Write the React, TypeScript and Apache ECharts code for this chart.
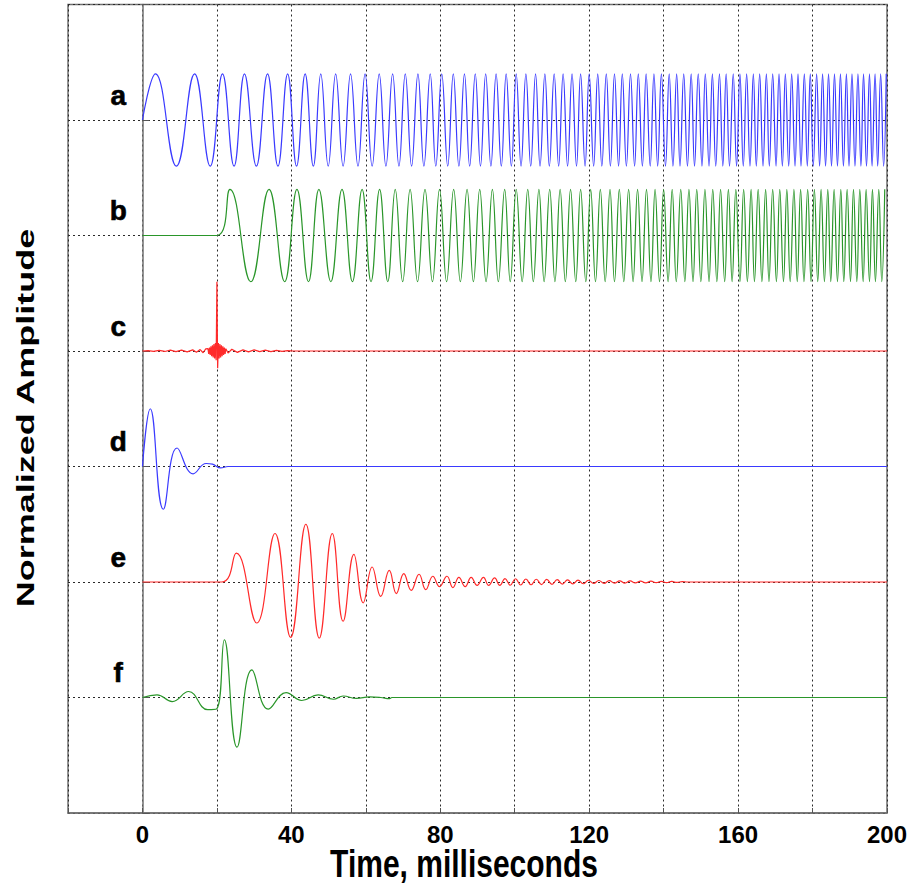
import React, { useEffect, useRef } from "react";
import * as echarts from "echarts";

// ---------- data ----------
const X_MIN = -20;
const X_MAX = 200;
const X_TICK_LABELS = ["0", "40", "80", "120", "160", "200"];
const TRACE_LETTERS = ["a", "b", "c", "d", "e", "f"];
const TRACE_BASELINES = [6, 5, 4, 3, 2, 1];
const TRACE_COLORS = ["#3a3aff", "#2a962a", "#ff2a2a", "#3a3aff", "#ff2a2a", "#2a962a"];

// trace a: chirp, times (ms) of its successive extrema, alternating peak / trough
const A_AMPLITUDE = 0.4;
const A_EXTREMA_MS = [
  3.5, 9.1, 14.0, 18.2, 21.5, 24.6, 27.4, 30.6, 33.6, 36.4, 39.0, 41.4, 43.7, 45.9, 47.9, 49.9, 51.9, 53.9, 55.9,
  57.9, 59.8, 61.7, 63.6, 65.4, 67.2, 68.9, 70.6, 72.3, 74.0, 75.6, 77.3, 78.8, 80.4, 82.0, 83.5, 85.0, 86.5, 87.9, 89.4,
  90.8, 92.2, 93.6, 95.0, 96.4, 97.7, 99.1, 100.4, 101.7, 103.0, 104.3, 105.6, 106.8, 108.1, 109.3, 110.6, 111.8, 113.0, 114.2, 115.4,
  116.6, 117.7, 118.9, 120.0, 121.2, 122.3, 123.4, 124.6, 125.7, 126.8, 127.9, 128.9, 130.0, 131.1, 132.2, 133.2, 134.3, 135.3, 136.4, 137.4,
  138.4, 139.4, 140.5, 141.5, 142.5, 143.5, 144.4, 145.4, 146.4, 147.4, 148.3, 149.3, 150.3, 151.2, 152.2, 153.1, 154.0, 155.0, 155.9, 156.8,
  157.7, 158.7, 159.6, 160.5, 161.4, 162.3, 163.2, 164.1, 164.9, 165.8, 166.7, 167.6, 168.4, 169.3, 170.2, 171.0, 171.9, 172.7, 173.6, 174.4,
  175.3, 176.1, 176.9, 177.8, 178.6, 179.4, 180.2, 181.1, 181.9, 182.7, 183.5, 184.3, 185.1, 185.9, 186.7, 187.5, 188.3, 189.1, 189.8, 190.6,
  191.4, 192.2, 193.0, 193.7, 194.5, 195.3, 196.0, 196.8, 197.5, 198.3, 199.1, 199.8,
];
// trace b: the same chirp delayed by 20 ms
const B_DELAY_MS = 20;

// trace c: correlation, [ms, amplitude]
const C_POINTS = [
  [0, 0], [1.5, 0.004], [3, -0.004], [4.5, 0.006], [6, -0.004], [7.5, 0.008], [9, -0.005], [10.5, 0.007],
  [12, -0.008], [13.5, 0.01], [14.5, -0.01], [15.5, 0.012], [16.3, -0.015], [17.0, 0.018], [17.6, 0.02],
  [17.8, -0.025], [18.0, 0.03], [18.2, -0.035], [18.4, 0.04], [18.6, -0.045], [18.8, 0.05], [19.0, -0.055],
  [19.2, 0.06], [19.4, -0.065], [19.6, 0.07], [19.8, -0.08], [20.0, 0.6], [20.2, -0.15], [20.4, 0.07],
  [20.6, -0.065], [20.8, 0.06], [21.0, -0.055], [21.2, 0.05], [21.4, -0.045], [21.6, 0.04], [21.8, -0.035],
  [22.0, 0.03], [22.2, -0.025], [22.4, 0.02], [23.0, -0.018], [24.0, 0.015], [25.5, -0.012], [27, 0.01],
  [28.5, -0.008], [30, 0.01], [31.5, -0.006], [33, 0.007], [34.5, -0.005], [36, 0.006], [37.5, -0.003],
  [39, 0.004], [40.5, 0], [200, 0],
];

// trace d: damped wavelet
const D_POINTS = [
  [0, 0], [2.1, 0.5], [5.6, -0.37], [9.3, 0.16], [13.6, -0.063], [17.1, 0.026], [18.8, 0.02],
  [21.0, -0.012], [23.0, 0], [200, 0],
];

// trace e: filtered response
const E_POINTS = [
  [0, 0], [21.3, 0], [25.2, 0.25], [30.7, -0.355], [35.6, 0.42], [39.8, -0.48], [43.9, 0.5], [47.5, -0.485],
  [51.0, 0.42], [53.9, -0.34], [56.8, 0.24], [59.3, -0.18], [61.7, 0.13], [64.0, -0.124], [66.3, 0.1],
  [68.2, -0.1], [70.2, 0.073], [72.2, -0.072], [74.3, 0.067], [76.1, -0.066], [78.0, 0.05], [79.8, -0.04],
  [81.8, 0.05], [83.4, -0.048], [85.0, 0.04], [86.7, -0.04], [88.3, 0.04], [89.9, -0.03], [91.6, 0.04],
  [93.0, -0.03], [94.6, 0.035], [96.0, -0.03], [97.4, 0.03], [98.8, -0.028], [100.2, 0.028], [101.6, -0.026],
  [103.0, 0.026], [104.4, -0.024], [105.8, 0.024], [107.2, -0.022], [108.6, 0.022], [110.0, -0.02],
  [111.4, 0.02], [112.8, -0.018], [114.2, 0.018], [115.6, -0.016], [117.0, 0.016], [118.4, -0.015],
  [119.8, 0.015], [121.2, -0.013], [122.6, 0.013], [124.0, -0.012], [125.4, 0.012], [126.8, -0.01],
  [128.2, 0.01], [129.6, -0.009], [131.0, 0.009], [132.4, -0.008], [133.8, 0.008], [135.2, -0.007],
  [136.6, 0.007], [138.0, -0.006], [139.4, 0.006], [140.8, -0.005], [142.2, 0.005], [143.6, -0.004],
  [145.0, 0.004], [146.4, 0], [200, 0],
];

// trace f: wavelet
const F_POINTS = [
  [0, 0], [3.9, 0.023], [8.0, -0.035], [12.4, 0.052], [17.5, -0.105], [19.9, -0.1], [22.0, 0.5],
  [25.4, -0.43], [29.4, 0.24], [33.8, -0.1], [38.6, 0.043], [42.8, -0.026], [47.2, 0.023], [51.3, -0.015],
  [53.9, 0.013], [57.5, -0.008], [61.0, 0.005], [64.0, 0], [66.4, -0.01], [67.0, 0], [200, 0],
];

const LABEL_X_MS = -6.5;
const LABEL_RISE = 0.215;

const FONT = '"Liberation Sans", Arial, Helvetica, sans-serif';

function chirpTrace(delay: number, base: number): number[][] {
  const pts: number[][] = [[0, base]];
  if (delay > 0) pts.push([delay, base]);
  A_EXTREMA_MS.forEach((t, i) => {
    const tt = t + delay;
    if (tt <= X_MAX) pts.push([tt, base + (i % 2 === 0 ? 1 : -1) * A_AMPLITUDE]);
  });
  return pts;
}

function offsetTrace(points: number[][], base: number): number[][] {
  return points.map(([t, v]) => [t, base + v]);
}

export default function App() {
  const ref = useRef<HTMLDivElement>(null);

  useEffect(() => {
    document.body.style.margin = "0";
    if (!ref.current) return;
    const chart = echarts.init(ref.current, undefined, { renderer: "svg" });

    const traces = [
      chirpTrace(0, TRACE_BASELINES[0]),
      chirpTrace(B_DELAY_MS, TRACE_BASELINES[1]),
      offsetTrace(C_POINTS, TRACE_BASELINES[2]),
      offsetTrace(D_POINTS, TRACE_BASELINES[3]),
      offsetTrace(E_POINTS, TRACE_BASELINES[4]),
      offsetTrace(F_POINTS, TRACE_BASELINES[5]),
    ];

    const lineSeries = traces.map((data, i) => ({
      type: "line",
      name: TRACE_LETTERS[i],
      data,
      showSymbol: false,
      symbol: "none",
      smooth: i === 2 ? false : 0.45,
      lineStyle: { color: TRACE_COLORS[i], width: 1.2 },
      z: 3,
      silent: true,
    }));

    const gridLine = { color: "#2a2a2a", type: [2, 3], width: 1 };

    chart.setOption({
      animation: false,
      backgroundColor: "#ffffff",
      grid: {
        left: 68,
        right: 23,
        top: 4.5,
        bottom: 76,
        show: true,
        borderColor: "#707070",
        borderWidth: 1.5,
        containLabel: false,
      },
      xAxis: {
        type: "value",
        min: X_MIN,
        max: X_MAX,
        interval: 20,
        axisLine: { show: true, lineStyle: { color: "#707070", width: 1.5 } },
        axisTick: { show: true, inside: true, length: 5, lineStyle: { color: "#555" } },
        axisLabel: {
          show: true,
          margin: 9,
          color: "#000",
          fontFamily: FONT,
          fontWeight: "bold",
          fontSize: 24,
          showMaxLabel: true,
          formatter: (v: number) => (X_TICK_LABELS.includes(String(v)) ? String(v) : ""),
        },
        splitLine: { show: true, lineStyle: gridLine },
      },
      yAxis: {
        type: "value",
        min: 0,
        max: 7,
        interval: 1,
        axisLine: { show: true, lineStyle: { color: "#707070", width: 1.5 } },
        axisTick: { show: true, inside: true, length: 7, lineStyle: { color: "#555" } },
        axisLabel: { show: false },
        splitLine: { show: true, lineStyle: gridLine },
      },
      series: [
        ...lineSeries,
        {
          type: "scatter",
          data: TRACE_BASELINES.map((b) => [LABEL_X_MS, b + LABEL_RISE]),
          symbolSize: 0,
          silent: true,
          z: 4,
          label: {
            show: true,
            position: "inside",
            formatter: (p: any) => TRACE_LETTERS[p.dataIndex],
            color: "#000000",
            opacity: 1,
            textBorderColor: "#000000",
            textBorderWidth: 0.6,
            fontFamily: FONT,
            fontWeight: "bold",
            fontSize: 28,
          },
        },
      ],
      graphic: [
        {
          type: "text",
          x: 464,
          y: 864,
          scaleY: 1.3,
          silent: true,
          style: {
            text: "Time, milliseconds",
            font: `bold 30px ${FONT}`,
            fill: "#000",
            textAlign: "center",
            textVerticalAlign: "middle",
            align: "center",
            verticalAlign: "middle",
          },
        },
        {
          type: "text",
          x: 25,
          y: 418,
          rotation: Math.PI / 2,
          scaleX: 1.5,
          silent: true,
          style: {
            text: "Normalized Amplitude",
            font: `bold 24px ${FONT}`,
            fill: "#000",
            textAlign: "center",
            textVerticalAlign: "middle",
            align: "center",
            verticalAlign: "middle",
          },
        },
      ],
    });

    return () => chart.dispose();
  }, []);

  return (
    <div
      ref={ref}
      style={{ width: 910, height: 889, position: "absolute", left: 0, top: 0, background: "#fff" }}
    />
  );
}
